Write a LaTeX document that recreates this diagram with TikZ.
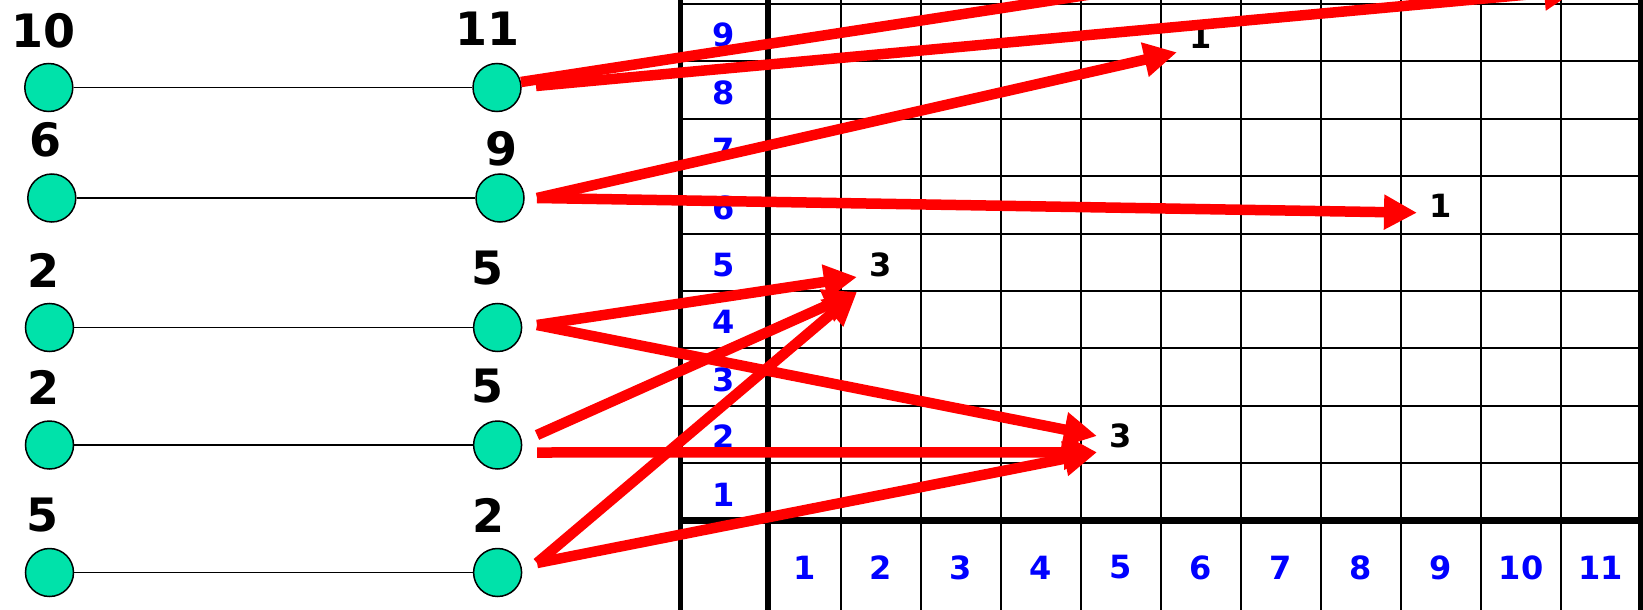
\documentclass[tikz,border=0pt]{standalone}
\usepackage{fontspec}
\setmainfont{DejaVu Sans}
\usetikzlibrary{arrows.meta,calc}
\definecolor{mint}{RGB}{0,226,170}
\definecolor{lblblue}{RGB}{0,0,255}
\definecolor{arrred}{RGB}{255,0,0}
\begin{document}
\begin{tikzpicture}[x=1pt,y=-1pt,
  gridthin/.style={line width=2pt,black},
  gridthick/.style={line width=5.5pt,black},
  axislbl/.style={text=lblblue,font=\fontsize{32}{32}\selectfont\bfseries,inner sep=0pt},
  cntlbl/.style={text=black,font=\fontsize{32}{32}\selectfont\bfseries,inner sep=0pt},
  vtxlbl/.style={text=black,font=\fontsize{46}{46}\selectfont\bfseries,inner sep=0pt},
  vtx/.style={circle,draw=black,line width=1.5pt,fill=mint,minimum size=48pt,inner sep=0pt},
  pairline/.style={line width=1.8pt,black},
  hitarrow/.style={line width=10.5pt,arrred,-{Triangle[length=33pt,width=33pt]}}]
\fill[white] (0,0) rectangle (1643,610);
\clip (0,0) rectangle (1643,610);
% grid
\foreach \x in {841,921,1001,1081,1161,1241,1321,1401,1481,1561}
  \draw[gridthin] (\x,0) -- (\x,610);
\foreach \y in {4,61,119,176,234,291,348,406,463}
  \draw[gridthin] (680,\y) -- (1640,\y);
\draw[gridthick] (680.5,0) -- (680.5,610);
\draw[gridthick,line width=6pt] (768,0) -- (768,610);
\draw[gridthick] (1640.5,0) -- (1640.5,610);
\draw[gridthick,line width=7pt] (678,520.5) -- (1643,520.5);
% axis labels
\foreach \k in {1,...,9}
  \node[axislbl] (row\k) at (724,{520.6-57.4*(\k-0.5)+2.5}) {\k};
\foreach \k/\x in {1/804.5,2/881,3/961,4/1041,5/1121,6/1201,7/1281,8/1361,9/1441,10/1521,11/1600.5}
  \node[axislbl] (col\k) at (\x,567.5) {\k};
% counts
\node[cntlbl] (c25) at (881,265) {3};
\node[cntlbl] (c52) at (1121,436) {3};
\node[cntlbl] (c69) at (1201,37) {1};
\node[cntlbl] (c96) at (1441,206) {1};
% vertices
\node[vtx] (l1) at (48.8,87.5) {};
\node[vtx] (r1) at (497,87.5) {};
\node[vtx] (l2) at (51.8,198) {};
\node[vtx] (r2) at (500,198) {};
\node[vtx] (l3) at (49.5,327.5) {};
\node[vtx] (r3) at (497.6,327.5) {};
\node[vtx] (l4) at (49.5,445) {};
\node[vtx] (r4) at (497.6,445) {};
\node[vtx] (l5) at (49.5,572.5) {};
\node[vtx] (r5) at (497.6,572.5) {};
\foreach \i in {1,...,5}
  \draw[pairline] (l\i) -- (r\i);
% vertex labels
\node[vtxlbl] (tl1) at (43.5,31) {10};
\node[vtxlbl] (tr1) at (487.5,29) {11};
\node[vtxlbl] (tl2) at (46,140) {6};
\node[vtxlbl] (tr2) at (501.5,148.5) {9};
\node[vtxlbl] (tl3) at (44,270) {2};
\node[vtxlbl] (tr3) at (487.5,268) {5};
\node[vtxlbl] (tl4) at (44,387) {2};
\node[vtxlbl] (tr4) at (487.5,386.5) {5};
\node[vtxlbl] (tl5) at (43,515) {5};
\node[vtxlbl] (tr5) at (488.5,515) {2};
% arrow ends
\coordinate (s1a) at (521,82);
\coordinate (s1b) at (536,86);
\coordinate (t1a) at (1497,-68);
\coordinate (t1b) at (1577,-10);
\coordinate (s2) at (537,198);
\coordinate (t2a) at (1177,52.3);
\coordinate (t2b) at (1417,212.7);
\coordinate (s3) at (537,325);
\coordinate (t3a) at (857,277);
\coordinate (t3b) at (1097,436);
\coordinate (s4a) at (537,435);
\coordinate (s4b) at (537,452.5);
\coordinate (s5) at (537,563);
\coordinate (tlow2) at (857,292);
\coordinate (tlow5) at (1097,452.3);
% arrows
\draw[hitarrow] (s1a) -- (t1a);
\draw[hitarrow] (s1b) -- (t1b);
\draw[hitarrow] (s2) -- (t2a);
\draw[hitarrow] (s2) -- (t2b);
\draw[hitarrow] (s3) -- (t3a);
\draw[hitarrow] (s3) -- (t3b);
\draw[hitarrow] (s4a) -- (tlow2);
\draw[hitarrow] (s4b) -- (tlow5);
\draw[hitarrow] (s5) -- (tlow2);
\draw[hitarrow] (s5) -- (tlow5);
\end{tikzpicture}
\end{document}
